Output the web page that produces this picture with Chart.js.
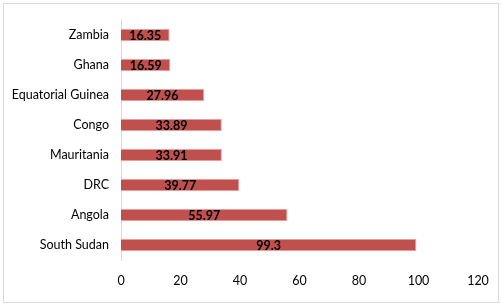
<!DOCTYPE html>
<html>
<head>
<meta charset="utf-8">
<script src="https://cdn.jsdelivr.net/npm/chart.js@4/dist/chart.umd.min.js"></script>
<style>
  html, body { margin: 0; padding: 0; background: #fff; }
  #wrap { position: absolute; left: 3px; top: 3px; width: 494px; height: 298px; border: 1px solid #d9d9d9; }
  canvas { display: block; }
</style>
</head>
<body>
<div id="wrap"><canvas id="c" width="494" height="298"></canvas></div>
<script>
const categories = ["Zambia", "Ghana", "Equatorial Guinea", "Congo", "Mauritania", "DRC", "Angola", "South Sudan"];
const values = [16.35, 16.59, 27.96, 33.89, 33.91, 39.77, 55.97, 99.3];
const xTicks = [0, 20, 40, 60, 80, 100, 120];

const labelPlugin = {
  id: 'barLabels',
  afterDatasetsDraw(chart) {
    const ctx = chart.ctx;
    const meta = chart.getDatasetMeta(0);
    ctx.save();
    ctx.font = 'bold 12.5px Lato';
    ctx.fillStyle = '#000';
    ctx.textAlign = 'center';
    ctx.textBaseline = 'middle';
    meta.data.forEach((bar, i) => {
      const x = (bar.x + bar.base) / 2;
      ctx.fillText(String(values[i]), x, bar.y + 1);
    });
    ctx.restore();
  }
};

function noOverflow(scale) {
  scale.paddingTop = 0; scale.paddingBottom = 0;
  scale.paddingLeft = 0; scale.paddingRight = 0;
}

new Chart(document.getElementById('c'), {
  type: 'bar',
  data: {
    labels: categories,
    datasets: [{
      data: values,
      backgroundColor: '#C0504D',
      borderColor: '#E3A6A4',
      borderWidth: 1,
      barPercentage: 0.84,
      categoryPercentage: 0.5
    }]
  },
  options: {
    indexAxis: 'y',
    responsive: false,
    animation: false,
    layout: { padding: { top: 16, right: 20, left: 0, bottom: 0 } },
    plugins: { legend: { display: false }, tooltip: { enabled: false } },
    scales: {
      x: {
        min: 0, max: 120,
        afterBuildTicks(scale) { scale.ticks = xTicks.map(v => ({ value: v })); },
        grid: { display: false, drawTicks: false },
        border: { display: false },
        ticks: { color: '#000', font: { family: 'Lato', size: 12.5 }, padding: 13, maxRotation: 0 },
        afterFit(scale) { scale.height = 42; noOverflow(scale); }
      },
      y: {
        grid: { display: false, drawTicks: false },
        border: { display: true, color: '#d9d9d9', width: 1 },
        ticks: { color: '#000', font: { family: 'Lato', size: 12.5 }, padding: 12 },
        afterFit(scale) { scale.width = 117; noOverflow(scale); }
      }
    }
  },
  plugins: [labelPlugin]
});
</script>
</body>
</html>
